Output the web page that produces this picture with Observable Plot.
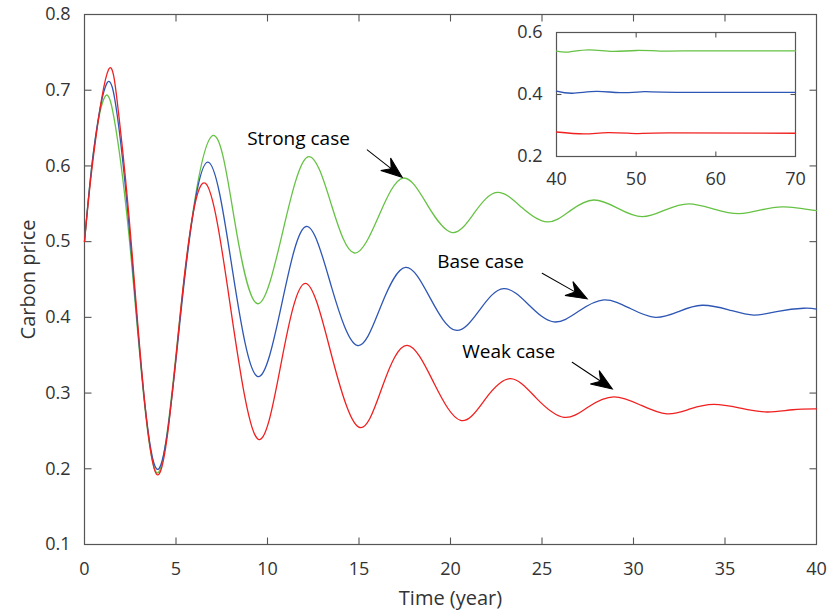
<!DOCTYPE html>
<html><head><meta charset="utf-8">
<script src="https://cdn.jsdelivr.net/npm/d3@7"></script>
<script src="https://cdn.jsdelivr.net/npm/@observablehq/plot@0.6"></script>
<style>
body{margin:0;background:#fff;}
#wrap{position:relative;width:827px;height:613px;}
#main svg{display:block;}
#inset{position:absolute;left:490px;top:20px;}
#inset svg{display:block;overflow:visible;}
</style></head><body><div id="wrap"><div id="main"></div><div id="inset"></div></div>
<script>
// ---- Data ----
const timeStrong  = [0,0.5,1.13,1.7,2.6,3.93,5.35,6.94,8.2,9.47,10.85,12.2,13.5,14.75,16.1,17.41,18.75,20.09,21.3,22.55,23.9,25.28,26.55,27.83,29.15,30.47,31.75,33.02,34.4,35.75,37,38.2,40];
const priceStrong = [0.5,0.62,0.692,0.651,0.465,0.195,0.43,0.639,0.528,0.418,0.515,0.612,0.548,0.485,0.535,0.584,0.548,0.512,0.538,0.565,0.545,0.526,0.541,0.555,0.544,0.533,0.542,0.55,0.543,0.537,0.542,0.546,0.541];
const timeBase    = [0,0.5,1.22,1.8,2.6,3.93,5.35,6.74,8.1,9.44,10.8,12.11,13.5,14.9,16.2,17.54,18.9,20.27,21.6,22.9,24.3,25.65,27,28.38,29.8,31.2,32.5,33.75,35.2,36.57,37.9,39.3,40];
const priceBase   = [0.5,0.62,0.709,0.665,0.475,0.2,0.425,0.605,0.46,0.322,0.42,0.52,0.44,0.363,0.415,0.466,0.425,0.383,0.41,0.438,0.416,0.394,0.408,0.423,0.412,0.4,0.408,0.416,0.41,0.403,0.408,0.412,0.411];
const timeWeak    = [0,0.5,1.31,1.85,2.6,3.93,5.3,6.61,8.0,9.44,10.75,12.06,13.5,14.99,16.3,17.63,19.1,20.55,21.9,23.28,24.7,26.2,27.55,28.93,30.4,31.83,33.1,34.39,35.85,37.3,38.7,40];
const priceWeak   = [0.5,0.615,0.727,0.672,0.485,0.193,0.42,0.577,0.41,0.24,0.34,0.445,0.35,0.255,0.31,0.363,0.313,0.264,0.292,0.319,0.293,0.268,0.282,0.295,0.284,0.2725,0.279,0.285,0.28,0.275,0.278,0.279];

// inset (t = 40..70)
const insetTimeStrong  = [40,41.5,44,47,50,53,56,70];
const insetPriceStrong = [0.540,0.537,0.544,0.539,0.542,0.540,0.541,0.541];
const insetTimeBase    = [40,42,45,48,51,55,70];
const insetPriceBase   = [0.411,0.404,0.41,0.406,0.409,0.407,0.407];
const insetTimeWeak    = [40,43.5,46.5,50,54,70];
const insetPriceWeak   = [0.279,0.273,0.277,0.274,0.276,0.275];

// tick labels
const xTicks = [0,5,10,15,20,25,30,35,40];
const yTicks = [0.1,0.2,0.3,0.4,0.5,0.6,0.7,0.8];
const insetXTicks = [40,50,60,70];
const insetYTicks = [0.2,0.4,0.6];

// annotations
const caseLabels = ["Strong case","Base case","Weak case"];
const labelT = [8.89, 19.27, 20.64];
const labelV = [0.636, 0.473, 0.354];
const arrowTailT = [15.45, 25.01, 26.65];
const arrowTailV = [0.6213, 0.4583, 0.3407];
const arrowTipT  = [17.36, 27.47, 28.84];
const arrowTipV  = [0.585, 0.4244, 0.3055];

// ---- Build ----
const zip = (ts, vs) => ts.map((t, i) => ({t, v: vs[i]}));
const C = {strong: "#66c244", base: "#2e56b4", weak: "#f02020"};
const axisColor = "#555";
const font = "'Open Sans', sans-serif";
const curve = "natural";

const W = 827, H = 613, mL = 84, mR = 11, mT = 14, mB = 69;
const sx = d3.scaleLinear([0, 40], [mL, W - mR]);
const sy = d3.scaleLinear([0.1, 0.8], [H - mB, mT]);

const tickShape = {draw(ctx, l) { ctx.moveTo(0, 0); ctx.lineTo(0, -l); }};
const arrowShape = {draw(ctx, l) {
  ctx.moveTo(0, 0); ctx.lineTo(0, -l + 12);
  ctx.moveTo(0, -l); ctx.lineTo(-8, -l + 21); ctx.lineTo(0, -l + 14); ctx.lineTo(8, -l + 21); ctx.closePath();
}};

function inwardTicks(xs, ys, x0, x1, y0, y1, len) {
  const o = {length: len, anchor: "start", shape: tickShape, stroke: axisColor, strokeWidth: 1.1, strokeLinecap: "butt"};
  const xi = xs.slice(1, -1), yi = ys.slice(1, -1);
  return [
    Plot.vector(xi, {...o, x: d => d, y: () => y0, rotate: 0}),
    Plot.vector(xi, {...o, x: d => d, y: () => y1, rotate: 180}),
    Plot.vector(yi, {...o, x: () => x0, y: d => d, rotate: 90}),
    Plot.vector(yi, {...o, x: () => x1, y: d => d, rotate: 270})
  ];
}

const arrows = caseLabels.map((_, i) => {
  const dx = sx(arrowTipT[i]) - sx(arrowTailT[i]);
  const dy = sy(arrowTipV[i]) - sy(arrowTailV[i]);
  const len = Math.hypot(dx, dy);
  const rot = Math.atan2(dx, -dy) * 180 / Math.PI;
  return Plot.vector([i], {x: () => arrowTipT[i], y: () => arrowTipV[i], length: len, rotate: rot,
    anchor: "end", shape: arrowShape, stroke: "black", fill: "black", strokeWidth: 1, strokeLinejoin: "miter"});
});

const main = Plot.plot({
  width: W, height: H, marginLeft: mL, marginRight: mR, marginTop: mT, marginBottom: mB,
  style: {fontFamily: font, color: "#333", background: "white"},
  x: {domain: [0, 40]},
  y: {domain: [0.1, 0.8]},
  marks: [
    Plot.frame({stroke: axisColor, strokeWidth: 1.2}),
    ...inwardTicks(xTicks, yTicks, 0, 40, 0.1, 0.8, 7),
    Plot.axisX({ticks: xTicks, tickSize: 0, tickPadding: 18, fontSize: 18, label: null}),
    Plot.axisY({ticks: yTicks, tickSize: 0, tickPadding: 14, fontSize: 18, tickFormat: ".1f", label: null}),
    Plot.line(zip(timeStrong, priceStrong), {x: "t", y: "v", stroke: C.strong, strokeWidth: 1.3, curve}),
    Plot.line(zip(timeBase, priceBase), {x: "t", y: "v", stroke: C.base, strokeWidth: 1.3, curve}),
    Plot.line(zip(timeWeak, priceWeak), {x: "t", y: "v", stroke: C.weak, strokeWidth: 1.3, curve}),
    Plot.text(caseLabels, {x: (d, i) => labelT[i], y: (d, i) => labelV[i], text: d => d,
      textAnchor: "start", lineAnchor: "middle", fontSize: 19, fill: "black"}),
    ...arrows,
    Plot.text(["Carbon price"], {frameAnchor: "left", dx: -56, rotate: -90, textAnchor: "middle", lineAnchor: "middle", fontSize: 20, fill: "#333"}),
    Plot.text(["Time (year)"], {frameAnchor: "bottom", dy: 54, textAnchor: "middle", lineAnchor: "middle", fontSize: 20, fill: "#333"})
  ]
});
document.getElementById("main").append(main);

const inset = Plot.plot({
  width: 320, height: 180, marginLeft: 66, marginRight: 15, marginTop: 12, marginBottom: 44,
  style: {fontFamily: font, color: "#333", background: "transparent"},
  x: {domain: [40, 70]},
  y: {domain: [0.2, 0.6]},
  marks: [
    Plot.frame({fill: "white", stroke: axisColor, strokeWidth: 1.2}),
    ...inwardTicks(insetXTicks, insetYTicks, 40, 70, 0.2, 0.6, 5),
    Plot.axisX({ticks: insetXTicks, tickSize: 0, tickPadding: 16, fontSize: 18, label: null}),
    Plot.axisY({ticks: insetYTicks, tickSize: 0, tickPadding: 14, fontSize: 18, tickFormat: ".1f", label: null}),
    Plot.line(zip(insetTimeStrong, insetPriceStrong), {x: "t", y: "v", stroke: C.strong, strokeWidth: 1.3, curve}),
    Plot.line(zip(insetTimeBase, insetPriceBase), {x: "t", y: "v", stroke: C.base, strokeWidth: 1.3, curve}),
    Plot.line(zip(insetTimeWeak, insetPriceWeak), {x: "t", y: "v", stroke: C.weak, strokeWidth: 1.3, curve})
  ]
});
document.getElementById("inset").append(inset);
</script></body></html>
